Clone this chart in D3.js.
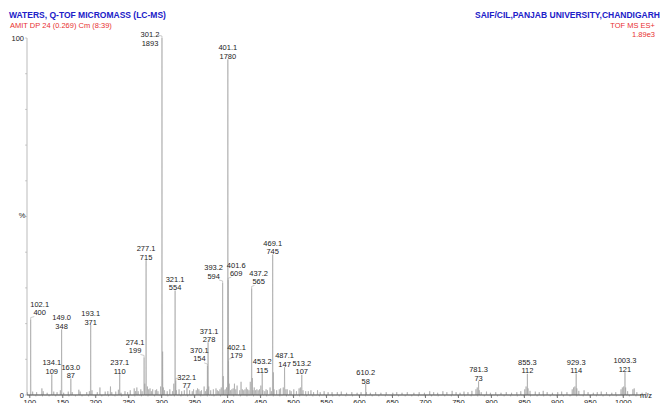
<!DOCTYPE html>
<html>
<head>
<meta charset="utf-8">
<script src="https://cdn.jsdelivr.net/npm/d3@7"></script>
<style>
  body { margin: 0; background: #fff; }
  svg text { font-family: "Liberation Sans", Arial, sans-serif; }
</style>
</head>
<body>
<div id="chart"></div>
<script>
// labelled peaks (m/z and raw intensity)
var peakMz = [102.1, 134.1, 149.0, 163.0, 193.1, 237.1, 274.1, 277.1, 301.2, 321.1, 322.1, 370.1, 371.1,
    393.2, 401.1, 401.6, 402.1, 437.2, 453.2, 469.1, 487.1, 513.2, 610.2, 781.3, 855.3, 929.3, 1003.3];
var peakIntensity = [400, 109, 348, 87, 371, 110, 199, 715, 1893, 554, 77, 154, 278,
    594, 1780, 609, 179, 565, 115, 745, 147, 107, 58, 73, 112, 114, 121];

// small unlabelled peaks
var noiseMz = [97.1, 105.1, 111.1, 119.1, 121.1, 127.1, 137.1, 142.1, 147.1, 152.1, 159.1, 165.1, 175.1, 177.1,
    187.1, 191.1, 195.1, 203.1, 207.1, 215.1, 219.1, 223.1, 225.1, 231.1, 235.1, 239.1, 245.1, 249.1, 253.1,
    259.1, 261.1, 263.1, 265.1, 269.1, 271.1, 275.1, 279.1, 281.1, 283.1, 285.1, 287.1, 291.1, 293.1, 295.1,
    299.1, 302.2, 303.2, 305.1, 309.1, 313.1, 317.1, 319.1, 323.1, 327.1, 331.1, 335.1, 339.1, 343.1, 347.1,
    349.1, 353.1, 355.1, 357.1, 359.1, 361.1, 365.1, 367.1, 369.1, 372.1, 375.1, 379.1, 383.1, 385.1, 387.1,
    389.1, 391.1, 394.2, 395.2, 397.1, 399.1, 403.1, 405.1, 407.1, 409.1, 411.1, 413.1, 415.1, 419.1, 421.1,
    423.1, 425.1, 427.1, 429.1, 431.1, 433.1, 435.1, 438.2, 439.2, 441.1, 443.1, 445.1, 447.1, 449.1, 451.1,
    454.2, 457.1, 459.1, 461.1, 465.1, 467.1, 470.1, 471.1, 475.1, 479.1, 481.1, 485.1, 489.1, 491.1, 495.1,
    497.1, 501.1, 505.1, 509.1, 511.1, 515.1, 519.1, 523.1, 527.1, 531.1, 537.1, 541.1, 547.1, 553.1, 559.1,
    567.1, 573.1, 581.1, 589.1, 597.1, 603.1, 611.2, 617.2, 625.2, 633.2, 641.2, 651.2, 657.2, 665.2, 673.2,
    683.2, 691.2, 699.2, 707.2, 713.2, 719.2, 727.2, 733.2, 741.2, 747.2, 753.2, 759.2, 765.2, 771.2, 777.3,
    779.3, 782.3, 785.3, 793.3, 799.3, 807.3, 815.3, 823.3, 831.3, 839.3, 845.3, 851.3, 853.3, 856.3, 859.3,
    867.3, 873.3, 879.3, 885.3, 893.3, 901.3, 907.3, 915.3, 923.3, 925.3, 927.3, 930.3, 933.3, 941.3, 947.3,
    955.3, 961.3, 967.3, 975.3, 983.3, 989.3, 997.3, 999.3, 1001.3, 1004.3, 1007.3, 1015.3, 1017.3, 1021.3,
    1029.3, 1035.3];
var noiseIntensity = [15, 18, 15, 35, 20, 12, 18, 15, 25, 12, 18, 15, 28, 18,
    15, 20, 25, 15, 40, 18, 20, 45, 15, 18, 28, 12, 20, 15, 25,
    35, 20, 40, 20, 30, 20, 60, 45, 30, 35, 20, 30, 25, 30, 20,
    45, 230, 40, 25, 20, 30, 20, 60, 25, 30, 20, 25, 40, 25, 20,
    30, 25, 35, 30, 20, 25, 45, 20, 30, 45, 25, 30, 35, 25, 20,
    30, 40, 100, 25, 30, 40, 60, 25, 30, 35, 60, 30, 50, 25, 70,
    30, 25, 30, 40, 30, 25, 70, 90, 25, 40, 25, 30, 25, 30, 50,
    25, 20, 30, 25, 40, 20, 120, 30, 25, 30, 35, 40, 30, 30, 25,
    20, 30, 20, 35, 40, 25, 20, 20, 25, 15, 25, 15, 20, 15, 15,
    15, 18, 12, 15, 12, 15, 15, 12, 15, 12, 15, 12, 15, 12, 15,
    12, 15, 12, 20, 15, 12, 20, 15, 22, 15, 12, 18, 15, 22, 30,
    40, 25, 15, 18, 12, 15, 12, 15, 12, 15, 20, 30, 45, 35, 22,
    18, 15, 22, 15, 12, 15, 18, 15, 30, 40, 45, 35, 22, 25, 15,
    12, 15, 18, 15, 12, 15, 30, 40, 45, 40, 20, 30, 35, 15,
    12, 15];

var xTicks = [100, 150, 200, 250, 300, 350, 400, 450, 500, 550, 600, 650, 700, 750, 800, 850, 900, 950, 1000];
var fullScale = 1893;

var svg = d3.select("#chart").append("svg")
    .attr("width", 660)
    .attr("height", 403);

var x = d3.scaleLinear().domain([100, 1000]).range([29.3, 622.8]);
var y = d3.scaleLinear().domain([0, fullScale]).range([395, 38]);

// headers
svg.append("text").attr("x", 9).attr("y", 18)
    .style("font-size", "8.5px").style("font-weight", "bold").attr("fill", "#2020c8")
    .text("WATERS, Q-TOF MICROMASS (LC-MS)");
svg.append("text").attr("x", 10).attr("y", 28)
    .style("font-size", "7.5px").attr("fill", "#e83030")
    .text("AMIT DP 24 (0.269) Cm (8:39)");
svg.append("text").attr("x", 660).attr("y", 18).attr("text-anchor", "end")
    .style("font-size", "8.5px").style("font-weight", "bold").attr("fill", "#2020c8")
    .text("SAIF/CIL,PANJAB UNIVERSITY,CHANDIGARH");
svg.append("text").attr("x", 655).attr("y", 28).attr("text-anchor", "end")
    .style("font-size", "7.5px").attr("fill", "#e83030")
    .text("TOF MS ES+");
svg.append("text").attr("x", 655).attr("y", 37).attr("text-anchor", "end")
    .style("font-size", "7.5px").attr("fill", "#e83030")
    .text("1.89e3");

// y axis: only 0 and 100 are labelled
var yPct = d3.scaleLinear().domain([0, 100]).range([395, 38]);
svg.append("line").attr("x1", 27).attr("x2", 27).attr("y1", yPct(100)).attr("y2", yPct(0))
    .attr("stroke", "#aaa").attr("stroke-width", 0.8);
svg.append("g").selectAll("line").data(d3.range(0, 101, 10)).join("line")
    .attr("x1", 25).attr("x2", 27).attr("y1", function (d) { return yPct(d); }).attr("y2", function (d) { return yPct(d); })
    .attr("stroke", "#aaa").attr("stroke-width", 0.6);
svg.append("g").selectAll("text").data([0, 100]).join("text")
    .attr("x", 24).attr("y", function (d) { return yPct(d) + 3; })
    .attr("text-anchor", "end").style("font-size", "7.5px").attr("fill", "#222")
    .text(function (d) { return d; });
svg.append("text").attr("x", 22).attr("y", 218).attr("text-anchor", "middle")
    .style("font-size", "7.5px").attr("fill", "#222").text("%");

// spectrum as a stick trace
var allPeaks = [];
peakMz.forEach(function (m, i) { allPeaks.push({ mz: m, v: peakIntensity[i] }); });
noiseMz.forEach(function (m, i) { allPeaks.push({ mz: m, v: noiseIntensity[i] }); });
allPeaks.sort(function (a, b) { return a.mz - b.mz; });

var trace = [];
allPeaks.forEach(function (p) {
    trace.push([p.mz - 0.4, 0], [p.mz, p.v], [p.mz + 0.4, 0]);
});
var line = d3.line()
    .x(function (d) { return x(d[0]); })
    .y(function (d) { return y(d[1]); });

svg.append("path")
    .datum(trace)
    .attr("d", line)
    .attr("fill", "none")
    .attr("stroke", "#a0a0a0")
    .attr("stroke-width", 0.6);

// x axis
var xAxis = d3.axisBottom(x).tickValues(xTicks).tickSize(3).tickFormat(d3.format("d"));
var gx = svg.append("g").attr("transform", "translate(0,395)").call(xAxis);
gx.select(".domain").remove();
gx.selectAll("line").attr("stroke", "#777");
gx.selectAll("text").attr("y", 5).attr("dy", "0.71em").style("font-size", "7.5px").attr("fill", "#222");
svg.append("g").attr("transform", "translate(0,395)").selectAll("line")
    .data(d3.range(100, 1041, 10)).join("line")
    .attr("x1", function (d) { return x(d); }).attr("x2", function (d) { return x(d); })
    .attr("y1", 0).attr("y2", 1.5).attr("stroke", "#999").attr("stroke-width", 0.6);
svg.append("line").attr("x1", 27).attr("x2", 641).attr("y1", 395).attr("y2", 395)
    .attr("stroke", "#555").attr("stroke-width", 1);
svg.append("text").attr("x", 640).attr("y", 398)
    .style("font-size", "7.5px").attr("fill", "#222").text("m/z");

// peak labels, a few nudged aside to clear neighbouring lines
var labelNudge = {
    "102.1": [9, -4], "274.1": [-9, -3.5], "301.2": [-12, 8], "322.1": [11, 8.5],
    "370.1": [-8, -4], "371.1": [1, 0], "393.2": [-9, -3.5], "401.6": [8, -3.5],
    "402.1": [8, -2.5], "437.2": [7, -3.5]
};
var labels = svg.append("g");
peakMz.forEach(function (m, i) {
    var key = m.toFixed(1);
    var nudge = labelNudge[key] || [0, 0];
    var px = x(m), py = y(peakIntensity[i]);
    var lx = px + nudge[0], ly = py - 9 + nudge[1];
    if (nudge[0] !== 0) {
        labels.append("path")
            .attr("d", "M" + px + "," + py + "L" + px + "," + (py - 2) + "L" + (px + nudge[0] * 0.4) + "," + (py - 3))
            .attr("fill", "none").attr("stroke", "#aaa").attr("stroke-width", 0.6);
    }
    labels.append("text").attr("x", lx).attr("y", ly).attr("text-anchor", "middle")
        .style("font-size", "7.5px").attr("fill", "#222").text(key);
    labels.append("text").attr("x", lx).attr("y", ly + 8.5).attr("text-anchor", "middle")
        .style("font-size", "7.5px").attr("fill", "#222").text(peakIntensity[i]);
});
</script>
</body>
</html>
